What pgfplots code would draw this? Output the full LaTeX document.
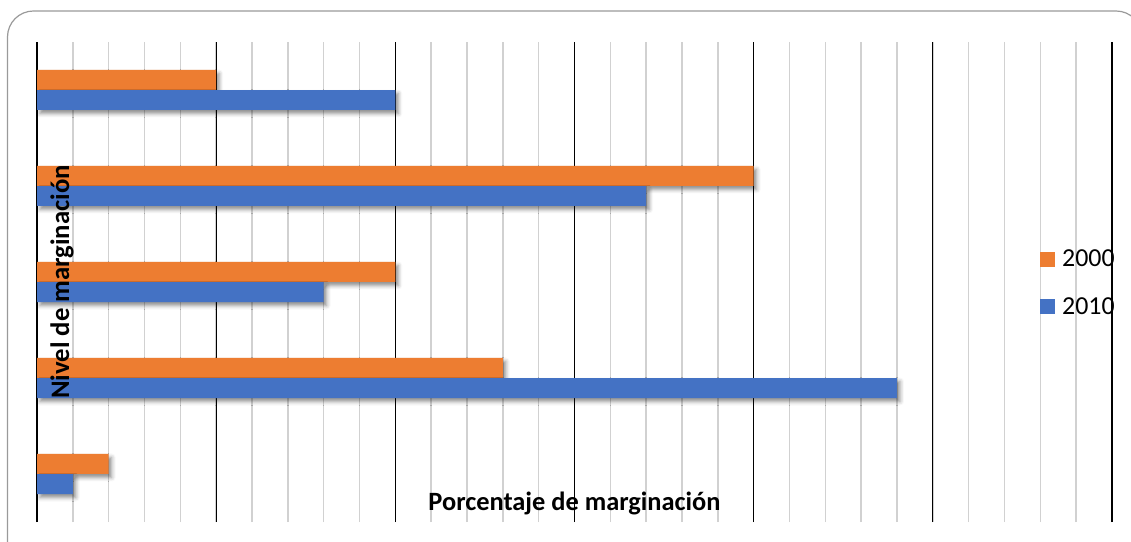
\documentclass[border=0pt]{standalone}
\usepackage{pgfplots}
\pgfplotsset{compat=1.18}
\usepackage{fontspec}
\setmainfont{Carlito}
\usetikzlibrary{shadows.blur}
\definecolor{c2000}{HTML}{ED7D31}
\definecolor{c2010}{HTML}{4472C4}
\definecolor{frameC}{HTML}{9A9A9A}
\begin{document}
\begin{tikzpicture}
\useasboundingbox (0,0) rectangle (1131bp,542bp);
\begin{scope}
\clip (0,0) rectangle (1131bp,542bp);
\draw[rounded corners=26bp, color=frameC, line width=1.2bp] (7.5bp,-40bp) rectangle (1142bp,531bp);
\end{scope}
\begin{axis}[
  at={(37bp,20bp)}, anchor=south west,
  width=1075bp, height=480bp, scale only axis,
  xmin=0, xmax=30, ymin=-0.5, ymax=4.5,
  xbar, bar width=0.2083,
  axis line style={draw=none},
  xtick={0,5,...,30}, minor xtick={0,1,...,30},
  xticklabels={}, ytick=\empty,
  major tick length=0pt, minor tick length=0pt,
  xmajorgrids, xminorgrids,
  major grid style={black, line width=1.1bp},
  minor grid style={black!18, line width=1.4bp},
  xlabel={Porcentaje de marginación},
  xlabel style={at={(axis description cs:0.5,0.0396)}, anchor=center, font=\fontsize{26.5}{26.5}\selectfont\bfseries},
  ylabel={Nivel de marginación},
  ylabel style={at={(axis description cs:0.0232,0.500)}, anchor=center, font=\fontsize{26.8}{26.8}\selectfont\bfseries},
  legend image code/.code={\fill[#1] (0bp,-7.5bp) rectangle (15bp,7.5bp);},
  legend style={draw=none, fill=none, inner sep=0pt, at={(axis description cs:0.933,0.5667)}, anchor=north west,
    font=\fontsize{26}{26}\selectfont, row sep=29bp,
    nodes={inner sep=0pt},
    /tikz/every odd column/.append style={column sep=7bp}},
  legend cell align=left,
]
\addplot[draw=none, bar shift=0.1042, fill=c2000,
  blur shadow={shadow xshift=3bp, shadow yshift=-3.5bp, shadow opacity=45, shadow blur radius=4bp}, forget plot]
  coordinates {(5,4) (20,3) (10,2) (13,1) (2,0)};
\addplot[draw=none, bar shift=-0.1042, fill=c2010,
  blur shadow={shadow xshift=3bp, shadow yshift=-3.5bp, shadow opacity=45, shadow blur radius=4bp}, forget plot]
  coordinates {(10,4) (17,3) (8,2) (24,1) (1,0)};
\addlegendimage{draw=none, fill=c2000}
\addlegendentry{2000}
\addlegendimage{draw=none, fill=c2010}
\addlegendentry{2010}
\end{axis}
\end{tikzpicture}
\end{document}
